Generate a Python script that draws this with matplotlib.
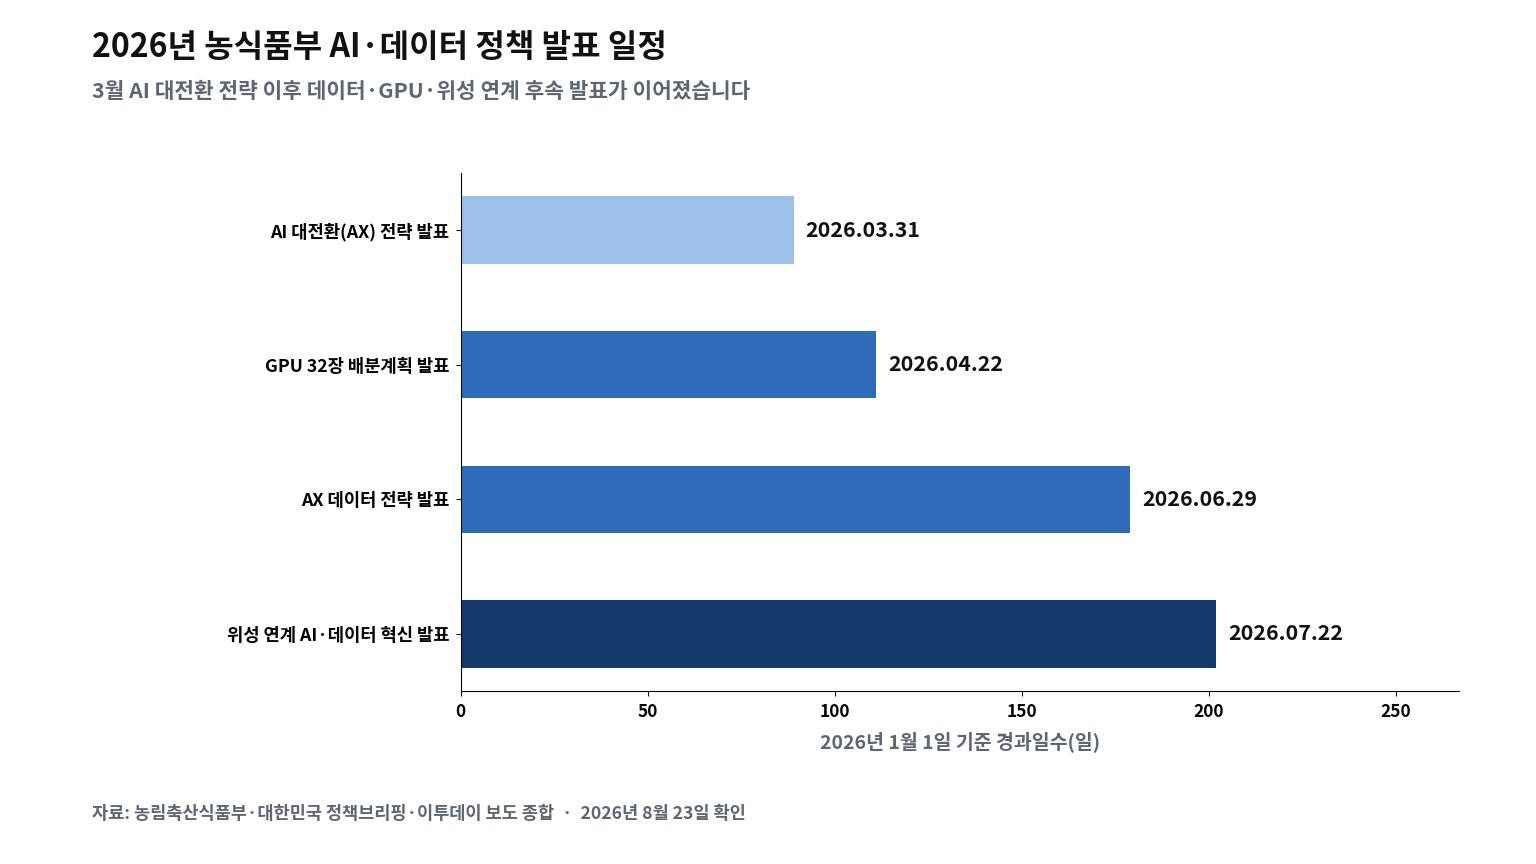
import matplotlib
matplotlib.use("Agg")
import matplotlib.pyplot as plt

plt.rcParams['font.family'] = ['Noto Sans CJK KR', 'DejaVu Sans']

# data
events = ["AI 대전환(AX) 전략 발표", "GPU 32장 배분계획 발표",
          "AX 데이터 전략 발표", "위성 연계 AI·데이터 혁신 발표"]
days = [89, 111, 179, 202]
dates = ["2026.03.31", "2026.04.22", "2026.06.29", "2026.07.22"]
colors = ["#9dc0e8", "#2e6bb8", "#2e6bb8", "#13396a"]

gray = "#5f6673"

fig = plt.figure(figsize=(16, 9), dpi=96)
ax = fig.add_axes([0.300, 0.200, 0.650, 0.600])

ypos = list(range(len(events)))
ax.barh(ypos, days, height=0.5, color=colors)
ax.set_yticks(ypos)
ax.set_yticklabels(events, fontsize=13.3, fontweight='bold')
ax.tick_params(axis='y', pad=5)
ax.invert_yaxis()
ax.set_xlim(0, 267)

for y, d, lab in zip(ypos, days, dates):
    ax.annotate(lab, (d, y), xytext=(9, 0), textcoords='offset points',
                va='center', ha='left', fontsize=16, fontweight='bold', color='#111111')

ax.set_xticks([0, 50, 100, 150, 200, 250])
ax.tick_params(axis='x', labelsize=13, pad=5)
for t in ax.get_xticklabels():
    t.set_fontweight('bold')
ax.set_xlabel("2026년 1월 1일 기준 경과일수(일)", fontsize=14.6, fontweight='bold',
              color=gray, labelpad=8)

ax.spines['top'].set_visible(False)
ax.spines['right'].set_visible(False)

fig.text(92 / 1536, 1 - 47 / 864, "2026년 농식품부 AI·데이터 정책 발표 일정",
         fontsize=24, fontweight='bold', color='#111111', va='center', ha='left')
fig.text(92 / 1536, 1 - 91 / 864,
         "3월 AI 대전환 전략 이후 데이터·GPU·위성 연계 후속 발표가 이어졌습니다",
         fontsize=16, fontweight='bold', color=gray, va='center', ha='left')
fig.text(92 / 1536, 1 - 814 / 864,
         "자료: 농림축산식품부·대한민국 정책브리핑·이투데이 보도 종합  ·  2026년 8월 23일 확인",
         fontsize=13.2, fontweight='bold', color=gray, va='center', ha='left')

fig.savefig("out.png", dpi=96)
